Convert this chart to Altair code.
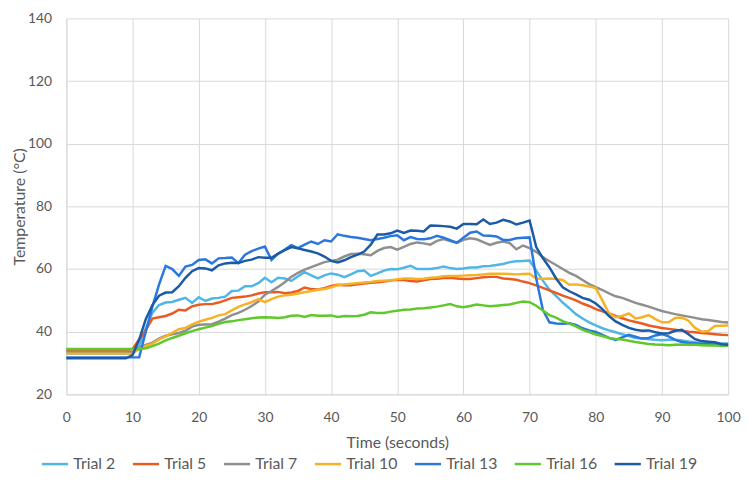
import altair as alt
import pandas as pd

time_s = list(range(0, 101))

trial_names = ["Trial 2", "Trial 5", "Trial 7", "Trial 10", "Trial 13", "Trial 16", "Trial 19"]
trial_colors = ["#4fb6e6", "#ea5b24", "#8f8f8f", "#f6b227", "#2a78dd", "#5fc82a", "#1b5ba6"]

trial_2 = [33.0]*11 + [
    35.5, 41.0, 46.0, 48.5, 49.3, 49.5, 50.2, 50.8, 49.2, 51.0,
    49.8, 50.6, 50.8, 51.2, 53.0, 53.1, 54.5, 54.5, 55.5, 57.2,
    55.8, 57.2, 57.0, 56.2, 57.7, 59.0, 58.0, 57.0, 58.0, 58.6,
    58.2, 57.4, 58.3, 59.3, 59.5, 57.8, 58.6, 59.5, 60.0, 59.9,
    60.4, 61.0, 60.0, 60.0, 60.0, 60.3, 60.8, 60.3, 60.0, 60.2,
    60.5, 60.5, 60.9, 61.0, 61.3, 61.6, 62.2, 62.5, 62.6, 62.7,
    59.5, 56.3, 53.4, 51.4, 49.3, 47.5, 45.6, 44.2, 43.0, 42.0,
    41.1, 40.4, 39.8, 39.2, 38.6, 38.0, 37.8, 37.6, 37.4, 37.3,
    37.4, 37.4, 37.2, 36.9, 36.6, 36.5, 36.4, 36.3, 36.2, 36.2]

trial_5 = [34.0]*10 + [
    34.5, 37.5, 40.5, 44.2, 44.6, 45.0, 45.8, 47.0, 46.8, 48.1, 48.6,
    48.8, 48.8, 49.3, 50.0, 50.8, 51.0, 51.2, 51.6, 52.2, 52.6,
    52.6, 52.7, 52.3, 52.5, 53.0, 54.1, 53.6, 53.5, 53.9, 54.6,
    55.0, 54.8, 54.8, 55.1, 55.4, 55.6, 55.8, 56.0, 56.3, 56.6,
    56.5, 56.2, 56.0, 56.4, 56.8, 56.9, 57.1, 57.2, 57.0, 56.8,
    56.8, 57.1, 57.4, 57.5, 57.5, 57.0, 56.8, 56.6, 56.0, 55.5,
    54.8, 54.0, 53.2, 52.4, 51.5, 50.8, 50.0, 49.0, 48.2, 47.2,
    46.5, 45.8, 45.0, 44.3, 43.6, 43.1, 42.6, 42.0, 41.6, 41.2,
    40.9, 40.6, 40.3, 40.0, 39.8, 39.6, 39.4, 39.2, 39.0, 38.9]

trial_7 = [33.5]*11 + [
    35.0, 35.8, 36.5, 37.8, 38.7, 39.2, 39.6, 40.3, 41.6, 42.2,
    42.3, 42.4, 43.2, 44.2, 45.3, 46.0, 47.0, 48.2, 49.6, 51.8,
    53.0, 54.3, 55.8, 57.5, 58.8, 59.8, 60.6, 61.4, 62.2, 62.6,
    63.0, 64.0, 64.8, 64.9, 64.7, 64.4, 65.8, 66.7, 67.0, 66.2,
    67.1, 68.0, 68.5, 68.2, 67.8, 69.0, 69.6, 68.9, 68.3, 69.3,
    69.8, 69.5, 68.6, 67.7, 68.4, 68.8, 68.3, 66.3, 67.5, 66.7,
    65.5, 63.8, 62.5, 61.3, 60.0, 58.8, 57.8, 56.5, 55.2, 54.2,
    53.3, 52.2, 51.3, 50.8, 50.0, 49.2, 48.6, 48.0, 47.3, 46.6,
    46.1, 45.6, 45.2, 44.8, 44.4, 44.0, 43.7, 43.4, 43.1, 42.9]

trial_10 = [33.0]*11 + [
    34.5, 35.5, 36.2, 37.5, 38.5, 39.6, 40.8, 41.2, 42.3, 43.2,
    43.8, 44.4, 45.2, 45.6, 46.8, 47.9, 48.7, 49.4, 50.4, 49.4,
    50.4, 51.2, 51.6, 51.8, 52.2, 52.6, 53.0, 53.4, 53.6, 54.2,
    54.8, 55.1, 55.3, 55.5, 55.7, 55.9, 56.2, 56.3, 56.4, 56.7,
    57.0, 57.0, 56.8, 56.9, 57.2, 57.4, 57.7, 57.8, 57.8, 57.9,
    58.0, 58.1, 58.3, 58.5, 58.5, 58.5, 58.4, 58.3, 58.4, 58.5,
    57.0, 56.9, 57.0, 56.8, 56.5, 55.0, 55.1, 54.8, 54.4, 53.9,
    50.0, 45.8, 44.6, 45.0, 45.8, 44.2, 44.6, 45.3, 44.0, 43.0,
    43.0, 44.4, 44.5, 43.5, 41.2, 40.0, 40.2, 41.8, 41.9, 42.0]

trial_13 = [31.8]*12 + [
    40.0, 48.0, 55.0, 61.0, 60.0, 57.8, 60.8, 61.3, 62.9,
    63.1, 61.8, 63.4, 63.5, 63.7, 61.9, 64.6, 65.7, 66.5, 67.2,
    62.9, 64.9, 66.2, 67.6, 66.7, 67.8, 68.8, 68.0, 69.2, 68.8,
    71.1, 70.6, 70.2, 70.0, 69.6, 69.2, 69.6, 70.0, 70.5, 70.8,
    69.2, 70.2, 69.6, 69.5, 69.8, 70.6, 70.0, 69.2, 68.4, 70.0,
    71.6, 72.0, 70.7, 70.6, 70.4, 69.3, 69.3, 69.8, 70.0, 70.1,
    57.0, 47.0, 43.0, 42.6, 42.5, 42.7, 42.2, 41.1, 40.4, 39.9,
    39.0, 38.0, 37.4, 38.2, 39.0, 38.4, 37.8, 38.0, 38.8, 39.2,
    38.5, 37.4, 36.7, 36.4, 36.3, 36.1, 36.0, 35.9, 35.8, 35.8]

trial_16 = [34.5]*11 + [
    34.4, 34.7, 35.4, 36.2, 37.2, 38.0, 38.7, 39.5, 40.2, 40.8,
    41.3, 41.8, 42.5, 43.1, 43.3, 43.7, 44.0, 44.3, 44.5, 44.6,
    44.5, 44.4, 44.6, 45.1, 45.2, 44.7, 45.3, 45.1, 45.1, 45.2,
    44.7, 45.0, 44.9, 45.0, 45.4, 46.2, 46.0, 46.0, 46.4, 46.7,
    47.0, 47.1, 47.4, 47.5, 47.7, 48.0, 48.4, 48.8, 48.1, 47.8,
    48.2, 48.7, 48.4, 48.1, 48.3, 48.5, 48.7, 49.2, 49.6, 49.4,
    48.3, 46.8, 45.3, 44.5, 43.4, 42.6, 41.7, 40.6, 39.9, 39.1,
    38.6, 38.0, 37.7, 37.5, 37.1, 36.7, 36.4, 36.1, 35.9, 35.8,
    35.7, 35.8, 35.9, 35.8, 35.8, 35.7, 35.6, 35.6, 35.5, 35.5]

trial_19 = [31.5]*10 + [
    32.5, 37.5, 44.0, 48.5, 51.5, 52.5, 52.6, 54.5, 57.2, 59.3, 60.3,
    60.2, 59.6, 61.2, 61.8, 62.0, 61.9, 62.6, 63.0, 63.8, 63.6,
    63.6, 64.9, 66.0, 67.0, 66.6, 66.1, 65.6, 65.0, 64.0, 62.6,
    62.1, 62.8, 63.8, 64.6, 65.6, 67.8, 71.0, 71.0, 71.4, 72.3,
    71.5, 72.3, 72.2, 72.0, 73.9, 73.8, 73.7, 73.5, 72.9, 74.4,
    74.4, 74.3, 75.8, 74.4, 74.8, 75.7, 75.2, 74.2, 74.8, 75.5,
    67.0, 63.5, 60.5, 57.0, 54.2, 52.9, 51.9, 50.8, 50.2, 49.0,
    47.2, 45.0, 43.3, 42.2, 41.2, 40.6, 40.3, 40.4, 39.8, 39.4,
    39.5, 40.3, 40.6, 39.2, 37.6, 37.0, 36.8, 36.6, 36.0, 35.8]

series = [trial_2, trial_5, trial_7, trial_10, trial_13, trial_16, trial_19]

rows = []
for order, (name, vals) in enumerate(zip(trial_names, series)):
    for t, v in zip(time_s, vals):
        rows.append({"Time": t, "Temp": v, "Trial": name, "order": order})
df = pd.DataFrame(rows)

FONT = "Lato"
TXT = "#595959"

chart = alt.Chart(df).mark_line(strokeWidth=2.5).encode(
    x=alt.X("Time:Q", title="Time (seconds)",
            scale=alt.Scale(domain=[0, 100], nice=False),
            axis=alt.Axis(values=list(range(0, 101, 10)), labelPadding=16,
                          labelFlush=False, titlePadding=11)),
    y=alt.Y("Temp:Q", title="Temperature (°C)",
            scale=alt.Scale(domain=[20, 140], nice=False),
            axis=alt.Axis(values=list(range(20, 141, 20)), labelPadding=15,
                          titleX=-39)),
    color=alt.Color("Trial:N", sort=trial_names,
                    scale=alt.Scale(domain=trial_names, range=trial_colors),
                    legend=alt.Legend(orient="none", direction="horizontal",
                                      legendX=-26, legendY=436, title=None,
                                      gridAlign="none",
                                      symbolType="stroke", symbolSize=700,
                                      symbolStrokeWidth=2.5, labelOffset=4,
                                      columnPadding=12, labelFontSize=16,
                                      labelFont=FONT, labelColor=TXT)),
    order=alt.Order("order:Q"),
).properties(
    width=669, height=380,
    autosize=alt.AutoSizeParams(type="none"),
    padding={"left": 59, "top": 8, "right": 13, "bottom": 80},
).configure_axis(
    grid=True, gridColor="#d9d9d9", gridWidth=1,
    domainColor="#d9d9d9", ticks=False, tickSize=0,
    labelFont=FONT, labelFontSize=14, labelColor=TXT,
    titleFont=FONT, titleFontSize=16, titleColor=TXT, titleFontWeight="normal",
).configure_view(stroke=None)

chart.save("out.html", embed_options={"renderer": "svg", "actions": False})
